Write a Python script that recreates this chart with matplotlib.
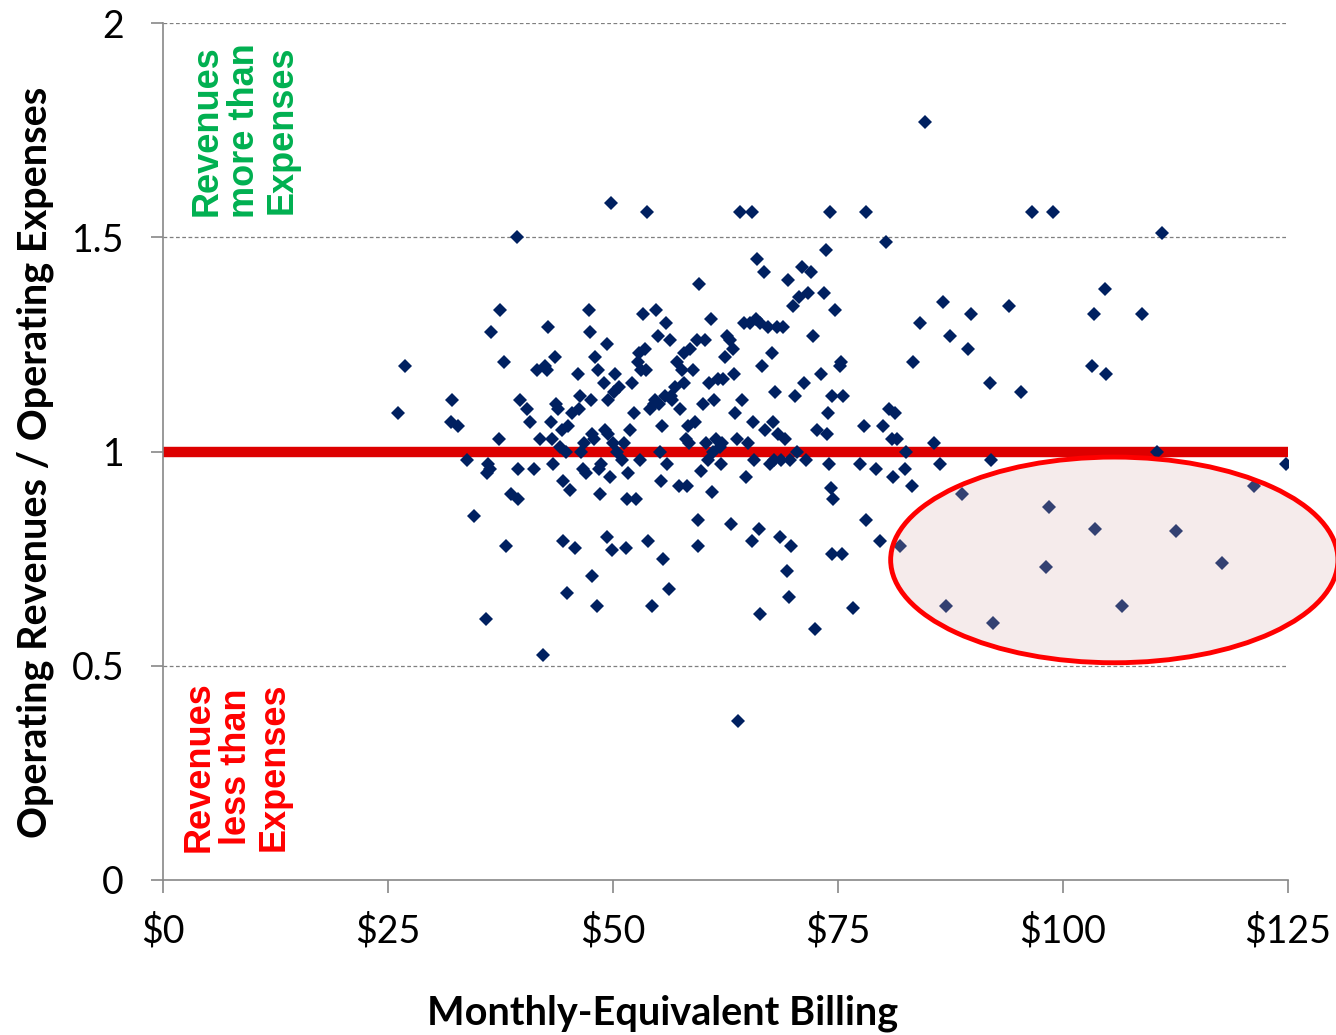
import matplotlib
matplotlib.use("Agg")
import matplotlib.pyplot as plt
from matplotlib.patches import Ellipse

# monthly-equivalent billing ($) and revenue/expense ratio
billing = [
    26.1, 26.9, 32.1, 32.0, 32.8, 33.8, 34.6, 36.1, 36.3, 35.9, 36.4, 37.4, 37.9, 37.3,
    38.1, 38.7, 39.4, 39.3, 39.7, 39.4, 40.8, 41.2, 41.9, 42.2, 42.4, 42.8, 42.7, 43.1,
    43.2, 43.3, 43.6, 43.7, 43.9, 44.1, 44.3, 44.4, 44.4, 44.9, 44.8, 45.2, 45.8, 46.1,
    46.3, 46.2, 46.7, 46.8, 47.0, 47.3, 47.4, 47.6, 47.7, 47.7, 47.9, 48.0, 48.3, 48.2,
    48.6, 48.7, 49.0, 49.1, 49.3, 49.3, 49.4, 49.7, 49.8, 49.9, 50.0, 50.1, 50.4, 50.7,
    51.0, 51.2, 51.4, 51.6, 51.7, 51.9, 52.1, 52.3, 52.6, 52.8, 52.9, 53.0, 53.1, 53.3,
    53.6, 53.7, 53.8, 53.9, 54.1, 54.3, 54.6, 54.7, 54.8, 55.0, 55.1, 55.2, 55.3, 55.6,
    55.8, 55.9, 56.0, 56.2, 56.3, 56.4, 56.6, 56.9, 57.1, 57.3, 57.4, 57.7, 57.9, 58.1,
    58.2, 58.3, 58.4, 58.6, 58.9, 59.1, 59.3, 59.4, 59.4, 59.6, 59.8, 60.0, 60.2, 60.3,
    60.6, 60.7, 60.9, 61.0, 61.1, 61.2, 61.4, 61.7, 61.9, 62.0, 62.1, 62.2, 62.4, 62.7,
    63.0, 63.1, 63.3, 63.4, 63.6, 63.8, 63.9, 64.1, 64.3, 64.6, 64.8, 65.0, 65.2, 65.4,
    65.4, 65.6, 65.7, 65.9, 66.0, 66.2, 66.3, 66.3, 66.6, 66.8, 66.9, 67.2, 67.4, 67.7,
    67.8, 67.9, 68.0, 68.2, 68.3, 68.6, 68.7, 68.9, 69.1, 69.3, 69.4, 69.6, 69.7, 69.8,
    70.0, 70.2, 70.4, 70.7, 71.0, 71.2, 71.4, 71.7, 72.0, 72.2, 72.4, 72.7, 73.1, 73.4,
    73.7, 73.8, 73.9, 74.0, 74.1, 74.2, 74.3, 74.4, 74.3, 74.7, 75.2, 75.3, 75.4, 75.6,
    76.7, 77.4, 77.9, 78.1, 78.1, 79.2, 79.7, 80.0, 80.3, 80.7, 81.0, 81.1, 81.3, 81.6,
    81.9, 82.4, 82.6, 83.2, 83.3, 84.1, 84.7, 85.7, 86.3, 86.7, 87.0, 87.4, 88.8, 89.4,
    89.8, 91.9, 92.0, 92.2, 94.0, 95.3, 96.6, 98.1, 98.4, 98.9, 103.2, 103.4, 103.6, 104.7,
    104.8, 106.6, 108.8, 110.4, 111.0, 112.6, 117.7, 121.2, 124.8,
    40.4, 41.6, 45.0, 46.4, 48.4, 49.4, 50.2, 45.4, 36.0, 55.4, 57.9,
]
ratio = [
    1.09, 1.20, 1.12, 1.07, 1.06, 0.98, 0.85, 0.97, 0.96, 0.61, 1.28, 1.33, 1.21, 1.03,
    0.78, 0.90, 0.89, 1.50, 1.12, 0.96, 1.07, 0.96, 1.03, 0.525, 1.20, 1.29, 1.19, 1.07,
    1.03, 0.97, 1.22, 1.11, 1.10, 1.01, 1.05, 0.93, 0.79, 0.67, 1.00, 0.91, 0.775, 1.18,
    1.13, 1.10, 0.96, 1.02, 0.95, 1.33, 1.28, 1.12, 1.04, 0.71, 1.03, 1.22, 1.19, 0.64,
    0.90, 0.97, 1.16, 1.05, 1.25, 0.80, 1.12, 0.94, 1.58, 0.77, 1.02, 1.14, 1.00, 1.15,
    0.98, 1.02, 0.775, 0.89, 0.95, 1.05, 1.16, 1.09, 0.89, 1.21, 1.23, 0.98, 1.19, 1.32,
    1.24, 1.19, 1.56, 0.79, 1.10, 0.64, 1.11, 1.12, 1.33, 1.27, 1.11, 1.00, 0.93, 0.75,
    1.13, 1.30, 0.97, 0.68, 1.26, 1.13, 1.12, 1.15, 1.21, 0.92, 1.10, 1.19, 1.23, 1.03,
    0.92, 1.06, 1.02, 1.24, 1.19, 1.07, 1.26, 0.78, 0.84, 1.39, 0.955, 1.11, 1.26, 1.02,
    0.98, 1.16, 1.31, 0.905, 1.00, 1.12, 1.03, 1.17, 1.01, 0.97, 1.02, 1.17, 1.22, 1.27,
    1.26, 0.83, 1.24, 1.18, 1.09, 1.03, 0.37, 1.56, 1.12, 1.30, 0.94, 1.02, 1.30, 1.56,
    0.79, 1.07, 0.98, 1.31, 1.45, 0.82, 0.62, 1.30, 1.20, 1.42, 1.05, 1.29, 0.97, 1.23,
    1.07, 0.98, 1.14, 1.29, 1.04, 0.80, 0.98, 1.29, 1.03, 0.72, 1.40, 0.66, 0.98, 0.78,
    1.34, 1.13, 1.00, 1.36, 1.43, 1.16, 0.98, 1.37, 1.42, 1.27, 0.585, 1.05, 1.18, 1.37,
    1.47, 1.04, 1.09, 0.97, 1.56, 0.915, 1.13, 0.89, 0.76, 1.33, 1.20, 1.21, 0.76, 1.13,
    0.635, 0.97, 1.06, 1.56, 0.84, 0.96, 0.79, 1.06, 1.49, 1.10, 1.03, 0.94, 1.09, 1.03,
    0.78, 0.96, 1.00, 0.92, 1.21, 1.30, 1.77, 1.02, 0.97, 1.35, 0.64, 1.27, 0.90, 1.24,
    1.32, 1.16, 0.98, 0.60, 1.34, 1.14, 1.56, 0.73, 0.87, 1.56, 1.20, 1.32, 0.82, 1.38,
    1.18, 0.64, 1.32, 1.00, 1.51, 0.815, 0.74, 0.92, 0.97,
    1.10, 1.19, 1.06, 1.00, 0.96, 1.04, 1.18, 1.09, 0.95, 1.06, 1.16,
]

x_ticks = [0, 25, 50, 75, 100, 125]
x_labels = ["$0", "$25", "$50", "$75", "$100", "$125"]
y_ticks = [0, 0.5, 1, 1.5, 2]
y_labels = ["0", "0.5", "1", "1.5", "2"]
breakeven = 1.0

plt.rcParams["font.family"] = ["Lato", "DejaVu Sans"]

fig = plt.figure(figsize=(13.36, 10.35), dpi=100)
ax = fig.add_axes([163 / 1336, 1 - 880 / 1035, 1125 / 1336, 857 / 1035])

ax.set_xlim(0, 125)
ax.set_ylim(0, 2)

# gridlines
for yv in y_ticks[1:]:
    ax.axhline(yv, color="#7f7f7f", lw=0.9, ls=(0, (3, 2)), zorder=1)

# break-even line
ax.plot([0, 125], [breakeven, breakeven], color="#dd0000", lw=7.5,
        solid_capstyle="butt", zorder=2)

ax.plot(billing, ratio, ls="none", marker="D", markersize=7,
        color="#002060", markeredgewidth=0, zorder=3)

# highlighted loss region
ell = Ellipse((105.7, 0.747), 49.7, 0.48, facecolor=(217 / 255, 172 / 255, 172 / 255),
              alpha=0.24, edgecolor="none", zorder=4, clip_on=False)
ax.add_patch(ell)
ell_edge = Ellipse((105.7, 0.747), 49.7, 0.48, facecolor="none", edgecolor="#ff0000",
                   lw=3.5, zorder=5, clip_on=False)
ax.add_patch(ell_edge)

ax.text(9.1, 1.75, "Revenues\nmore than\nExpenses", rotation=90, ha="center", va="center",
        multialignment="center", color="#00b050", fontsize=26, fontweight="bold",
        family=["Liberation Sans", "DejaVu Sans"], linespacing=1.1)
ax.text(8.2, 0.264, "Revenues\nless than\nExpenses", rotation=90, ha="center", va="center",
        multialignment="center", color="#ff0000", fontsize=26, fontweight="bold",
        family=["Liberation Sans", "DejaVu Sans"], linespacing=1.1)

ax.set_xticks(x_ticks)
ax.set_xticklabels(x_labels)
ax.set_yticks(y_ticks)
ax.set_yticklabels(y_labels)
ax.tick_params(axis="both", direction="out", color="#888888", labelsize=27, width=1.2)
ax.tick_params(axis="x", length=9, pad=15)
ax.tick_params(axis="y", length=9, pad=19)

for side in ["top", "right"]:
    ax.spines[side].set_visible(False)
for side in ["left", "bottom"]:
    ax.spines[side].set_color("#888888")
    ax.spines[side].set_linewidth(1.2)

ax.set_xlabel("Monthly-Equivalent Billing", fontsize=28.5, fontweight="bold")
ax.set_ylabel("Operating Revenues / Operating Expenses", fontsize=28.5, fontweight="bold")
ax.xaxis.set_label_coords(500 / 1125, -133 / 857)
ax.yaxis.set_label_coords(-128 / 1125, 418 / 857)
ax.xaxis.label.set_va("center")
ax.yaxis.label.set_va("center")

fig.savefig("out.png", dpi=100)
